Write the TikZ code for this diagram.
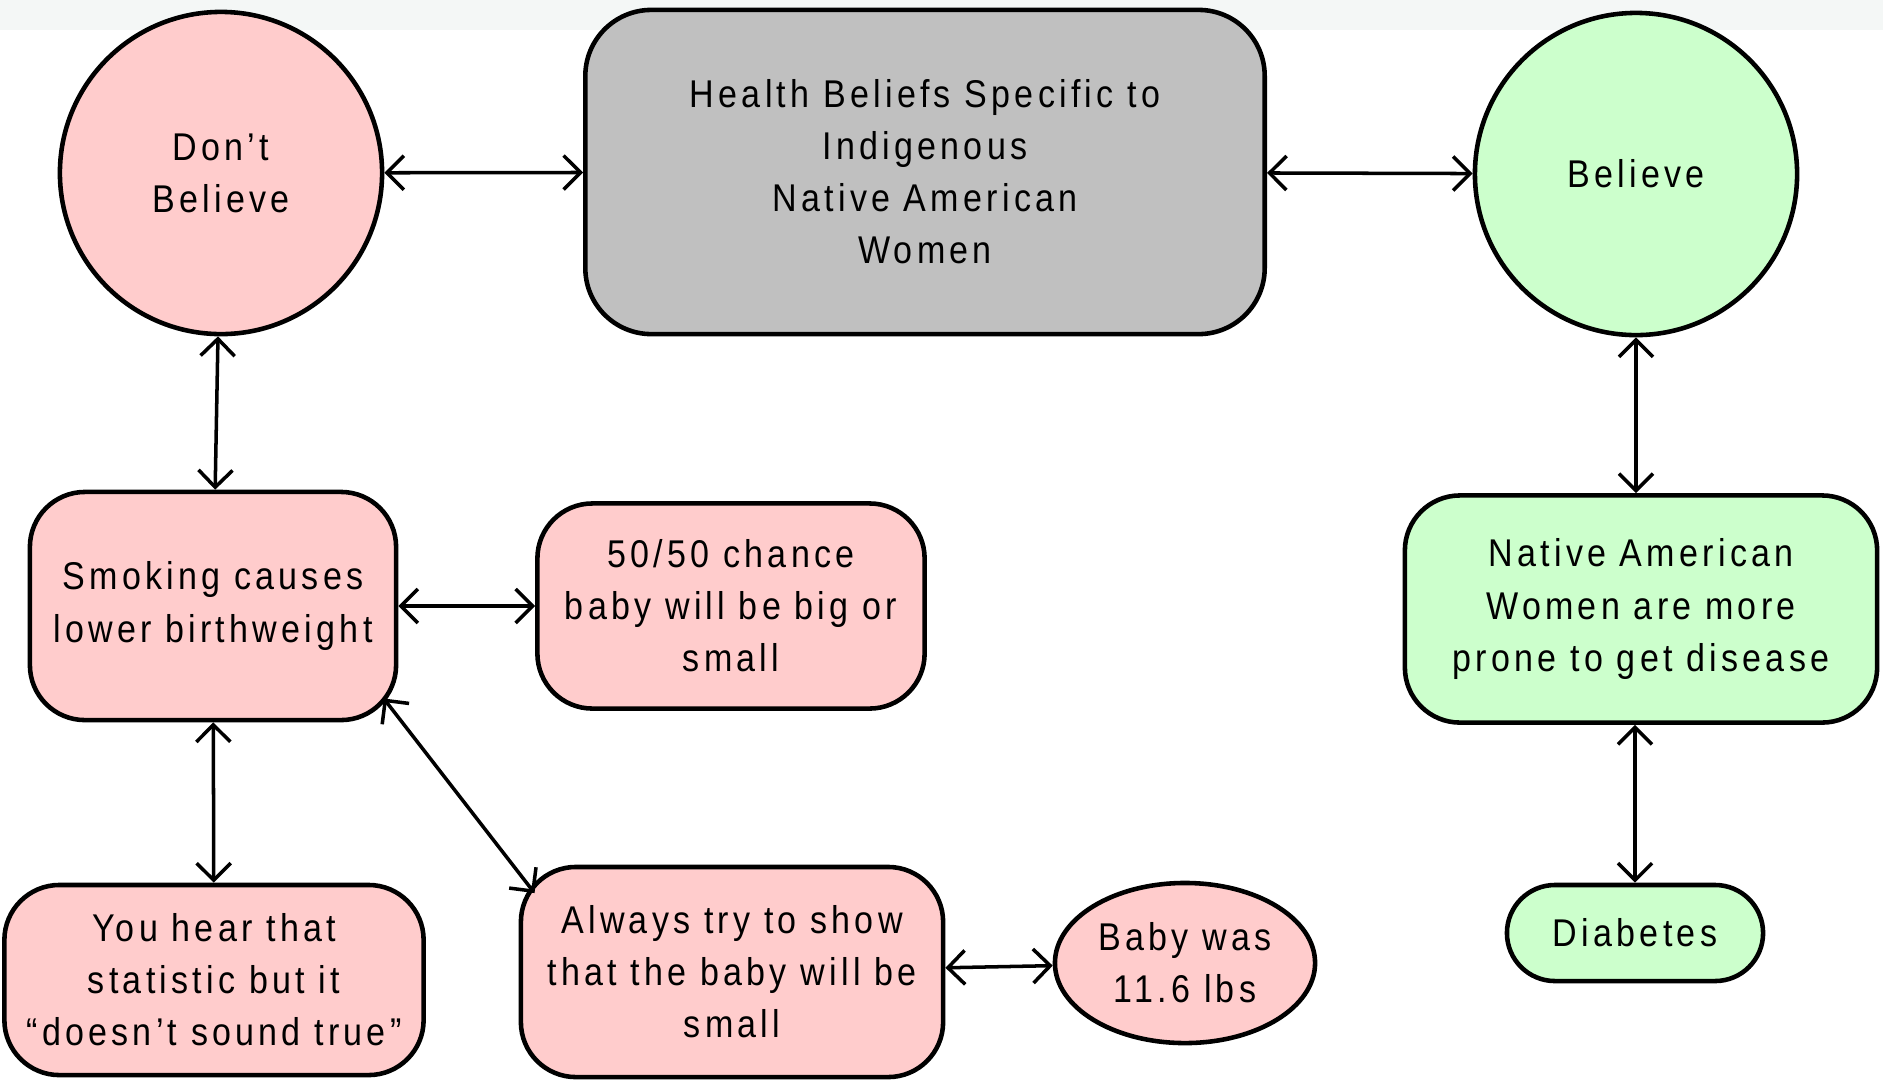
\documentclass[tikz,border=0pt]{standalone}
\usepackage{fontspec}
\setmainfont{Liberation Sans}[LetterSpace=11,FakeStretch=0.88]
\usetikzlibrary{arrows.meta,shapes.geometric}

\definecolor{pinkfill}{HTML}{FFCCCC}
\definecolor{greenfill}{HTML}{CCFFCC}
\definecolor{grayfill}{HTML}{C0C0C0}
\definecolor{bandgray}{HTML}{F4F7F6}

\begin{document}
\begin{tikzpicture}[x=0.01cm,y=-0.01cm,>={Straight Barb[length=1.7mm,width=3.4mm]}]
  \tikzset{NodeStyle/.style = {draw           = black,
                               line width     = 1.3pt,
                               align          = center,
                               inner sep      = 0pt,
                               font           = \fontsize{11}{14.8}\selectfont}}
  \tikzset{BoxStyle/.style   = {NodeStyle,
                               shape          = rectangle,
                               rounded corners = 0.55cm}}
  \tikzset{RoundStyle/.style = {NodeStyle,
                               shape          = circle,
                               minimum size   = 3.22cm}}
  \tikzset{EdgeStyle/.style  = {line width     = 1pt,
                               <->}}

\useasboundingbox (0,0) rectangle (1883,1081);
\fill[bandgray] (0,0) rectangle (1883,30);

\node[RoundStyle,fill=pinkfill]  (dontbelieve) at (221,173) {Don't\\Believe};
\node[BoxStyle,fill=grayfill,minimum width=6.79cm,minimum height=3.24cm,rounded corners=0.66cm]
      (health) at (925,172) {Health Beliefs Specific to\\Indigenous\\Native American\\Women};
\node[RoundStyle,fill=greenfill] (believe) at (1636,174) {Believe};

\node[BoxStyle,fill=pinkfill,minimum width=3.66cm,minimum height=2.28cm]
      (smoking) at (213,606) {Smoking causes\\lower birthweight};
\node[BoxStyle,fill=pinkfill,minimum width=3.87cm,minimum height=2.05cm]
      (chance) at (731,606) {50/50 chance\\baby will be big or\\small};
\node[BoxStyle,fill=greenfill,minimum width=4.72cm,minimum height=2.27cm]
      (prone) at (1641,609) {Native American\\Women are more\\prone to get disease};

\node[BoxStyle,fill=pinkfill,minimum width=4.19cm,minimum height=1.90cm]
      (hear) at (214,980) {You hear that\\statistic but it\\``doesn't sound true''};
\node[BoxStyle,fill=pinkfill,minimum width=4.22cm,minimum height=2.10cm]
      (always) at (732,972) {Always try to show\\that the baby will be\\small};
\node[NodeStyle,shape=ellipse,fill=pinkfill,minimum width=2.60cm,minimum height=1.60cm]
      (baby) at (1185,963) {Baby was\\11.6 lbs};
\node[BoxStyle,fill=greenfill,minimum width=2.56cm,minimum height=0.96cm,rounded corners=0.48cm]
      (diabetes) at (1635,933) {Diabetes};

\draw[EdgeStyle] (dontbelieve) -- (health);
\draw[EdgeStyle] (health) -- (believe);
\draw[EdgeStyle] (dontbelieve) -- (smoking);
\draw[EdgeStyle] (believe.south) -- (prone.north -| believe.south);
\draw[EdgeStyle] (smoking) -- (chance);
\draw[EdgeStyle] (smoking) -- (hear);
\draw[EdgeStyle,shorten <=-0.24cm,shorten >=-0.26cm] (smoking.-31) -- (always.155.3);
\draw[EdgeStyle] (always) -- (baby);
\draw[EdgeStyle] (prone.south -| diabetes.north) -- (diabetes);

\end{tikzpicture}
\end{document}
